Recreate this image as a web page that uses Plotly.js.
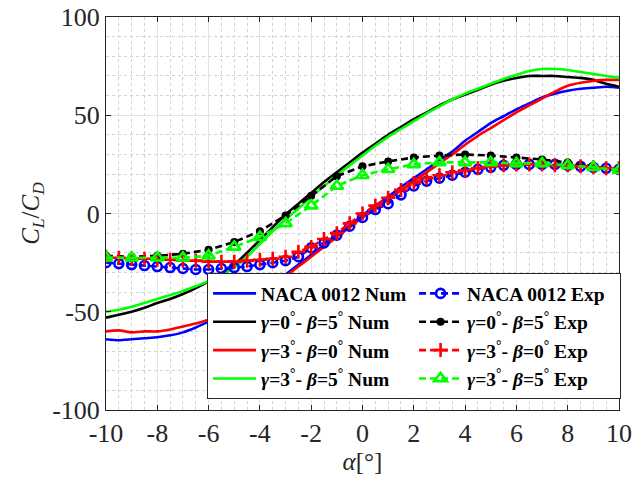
<!DOCTYPE html>
<html>
<head>
<meta charset="utf-8">
<script src="https://cdn.plot.ly/plotly-3.0.1.min.js"></script>
<style>html,body{margin:0;padding:0;background:#fff;}#chart{width:633px;height:483px;}</style>
</head>
<body>
<div id="chart"></div>
<script>
// Angle of attack grids
const alphaNum = [-10,-9.5,-9,-8.5,-8,-7.5,-7,-6.5,-6,-5.5,-5,-4.5,-4,-3.5,-3,-2.5,-2,-1.5,-1,-0.5,0,0.5,1,1.5,2,2.5,3,3.5,4,4.5,5,5.5,6,6.5,7,7.5,8,8.5,9,9.5,10];
const alphaExpHalf = alphaNum;
const alphaExpOne = [-10,-9,-8,-7,-6,-5,-4,-3,-2,-1,0,1,2,3,4,5,6,7,8,9,10];

// Tick labels
const xTickVals = [-10,-8,-6,-4,-2,0,2,4,6,8,10];
const xTickText = ['-10','-8','-6','-4','-2','0','2','4','6','8','10'];
const yTickVals = [-100,-50,0,50,100];
const yTickText = ['-100','-50','0','50','100'];

// Numerical CL/CD
const nacaNum = [-64,-64.5,-64,-63.5,-63,-62,-60.5,-58,-55,-52,-48.5,-44,-39.5,-35,-31,-26,-21,-16,-11,-6,-1,4,8.5,13.5,18,22.5,27,31.5,37,41.5,46,49.5,53,56,59,61,62.5,63.5,64,64.5,64];
const g0b5Num = [-53,-51.5,-50,-48,-45.5,-43.5,-41,-38,-34.5,-30.5,-26,-20,-13.5,-7,-0.5,5,10.5,16,21,26,31,35.5,40,44,48,51.5,55,58,60.5,63,65.5,67.5,69,70,70,70,69.5,69,68,66,64.5];
const g3b0Num = [-60,-59.5,-60.5,-60,-60,-59,-57.5,-56,-54,-51,-48,-44.5,-40.5,-36.5,-32,-27,-22,-17,-12,-7,-2,2.5,7,12,16.5,21,25.5,30,35,39.5,43.5,47.5,51.5,55,58.5,62,65,66.5,67.5,68,68];
const g3b5Num = [-50,-49,-47.5,-45.5,-43.5,-41.5,-39.5,-37,-34.5,-31.5,-27.5,-22,-15.5,-9,-3,2.5,8.5,14,19.5,24.5,29.5,34.5,39,43,47,51,54.5,58,61,63.5,66,68.5,70.5,72.5,73.5,73.5,73,72,71,70,69];

// Experimental CL/CD
const nacaExp = [-25,-25.5,-26,-26.5,-27,-27.5,-28,-28.5,-28.5,-28,-27.5,-27,-26,-25,-24,-22,-17.5,-15,-11,-6.5,-2,2,5,9.5,14,16.5,18,19.5,21,22.5,23.5,24.5,25,25,25,25,24.5,24,23.5,23,22.5];
const g3b0Exp = [-22,-22.5,-23,-23,-23.5,-23.5,-24,-24,-24.5,-24.5,-24.5,-24,-23.5,-23,-22,-19.5,-17,-13,-10,-5,0,4,8,12,15.5,18,19.5,21,22,23,24,24.5,25,25,25,24.5,24.5,24,23.5,23,23];
const g0b5Exp = [-21.5,-22,-21.5,-20.5,-18.5,-14.5,-9,-1,9,19,24,26.5,28.5,29.5,30,29.5,28.5,27.5,26,24,22];
const g3b5Exp = [-22.5,-22.5,-22.5,-22.5,-21.5,-17,-12,-5,4,14,19.5,22.5,25,26,26,26,25.5,25.5,24.5,23.5,22];

const deg = '<sup>°</sup>';
const labels = {
  nacaNum: 'NACA 0012 Num',
  nacaExp: 'NACA 0012 Exp',
  g0b5Num: '<i>γ</i>=0' + deg + '- <i>β</i>=5' + deg + ' Num',
  g0b5Exp: '<i>γ</i>=0' + deg + '- <i>β</i>=5' + deg + ' Exp',
  g3b0Num: '<i>γ</i>=3' + deg + '- <i>β</i>=0' + deg + ' Num',
  g3b0Exp: '<i>γ</i>=3' + deg + '- <i>β</i>=0' + deg + ' Exp',
  g3b5Num: '<i>γ</i>=3' + deg + '- <i>β</i>=5' + deg + ' Num',
  g3b5Exp: '<i>γ</i>=3' + deg + '- <i>β</i>=5' + deg + ' Exp'
};

const BLUE = '#0000ff', BLACK = '#000000', RED = '#ff0000', GREEN = '#00ff00';
const SERIF = '"Liberation Serif", "Times New Roman", serif';

function num(y, color, name, rank) {
  return {x: alphaNum, y: y, type: 'scatter', mode: 'lines', name: name, legendrank: rank,
    line: {color: color, width: 2.6, shape: 'spline', smoothing: 0.6}};
}
function exp(x, y, color, name, rank, marker) {
  return {x: x, y: y, type: 'scatter', mode: 'lines+markers', name: name, legendrank: rank,
    line: {color: color, width: 2.6, dash: '7px,4px'}, marker: marker};
}

const data = [
  num(nacaNum, BLUE, labels.nacaNum, 1),
  num(g0b5Num, BLACK, labels.g0b5Num, 3),
  num(g3b0Num, RED, labels.g3b0Num, 5),
  num(g3b5Num, GREEN, labels.g3b5Num, 7),
  exp(alphaExpHalf, nacaExp, BLUE, labels.nacaExp, 2, {symbol: 'circle-open', size: 9, color: BLUE, line: {width: 2.6, color: BLUE}}),
  exp(alphaExpOne, g0b5Exp, BLACK, labels.g0b5Exp, 4, {symbol: 'circle', size: 8, color: BLACK}),
  exp(alphaExpHalf, g3b0Exp, RED, labels.g3b0Exp, 6, {symbol: 'cross-thin-open', size: 10, color: RED, line: {width: 2.6, color: RED}}),
  exp(alphaExpOne, g3b5Exp, GREEN, labels.g3b5Exp, 8, {symbol: 'triangle-up-open', size: 11, color: GREEN, line: {width: 2.6, color: GREEN}})
];

const axisCommon = {
  showline: true, linecolor: '#262626', linewidth: 1, mirror: 'ticks',
  ticks: 'inside', ticklen: 5, tickcolor: '#262626', tickwidth: 1,
  showgrid: true, gridcolor: '#e3e3e3', gridwidth: 1, zeroline: false,
  tickmode: 'array',
  tickfont: {family: SERIF, size: 26, color: '#262626'}
};

const layout = {
  width: 633, height: 483,
  margin: {l: 106, r: 14, t: 17, b: 73},
  paper_bgcolor: '#ffffff', plot_bgcolor: '#ffffff',
  showlegend: true,
  xaxis: Object.assign({}, axisCommon, {
    range: [-10, 10], tickvals: xTickVals, ticktext: xTickText,
    minor: {dtick: 0.5, tick0: -10, showgrid: true, gridcolor: '#d2d2d2', griddash: 'dot', gridwidth: 1, ticks: ''},
    title: {text: '<i>α</i>[°]', standoff: 4, font: {family: SERIF, size: 25, color: '#262626'}}
  }),
  yaxis: Object.assign({}, axisCommon, {
    range: [-100, 100], tickvals: yTickVals, ticktext: yTickText,
    minor: {dtick: 10, tick0: -100, showgrid: true, gridcolor: '#d2d2d2', griddash: 'dot', gridwidth: 1, ticks: ''},
    title: {text: '<i>C<sub>L</sub></i>/<i>C<sub>D</sub></i>', standoff: 5, font: {family: SERIF, size: 25, color: '#262626'}}
  }),
  legend: {
    orientation: 'h', x: 0.197, y: 0.348, xanchor: 'left', yanchor: 'top',
    bgcolor: '#ffffff', bordercolor: '#262626', borderwidth: 1,
    itemwidth: 43,
    entrywidth: 148, entrywidthmode: 'pixels',
    traceorder: 'normal',
    font: {family: SERIF, size: 19.5, color: '#000000', weight: 'bold'}
  }
};

Plotly.newPlot('chart', data, layout, {staticPlot: true, displayModeBar: false});
</script>
</body>
</html>
